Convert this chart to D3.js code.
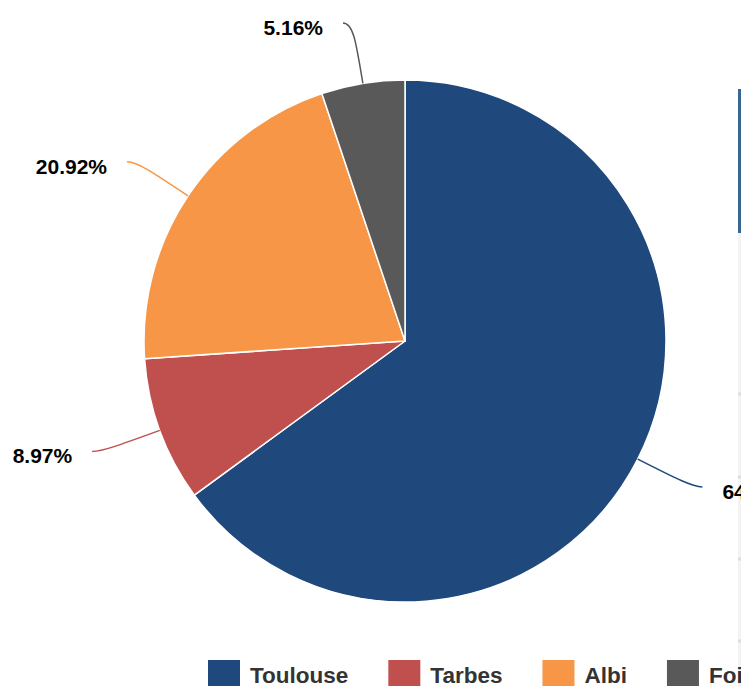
<!DOCTYPE html>
<html>
<head>
<meta charset="utf-8">
<script src="https://cdn.jsdelivr.net/npm/d3@7/dist/d3.min.js"></script>
<style>
  html, body { margin: 0; padding: 0; background: #fff; overflow: hidden; }
  svg { display: block; font-family: "Liberation Sans", Arial, Helvetica, sans-serif; }
</style>
</head>
<body>
<svg id="chart" width="741" height="686"></svg>
<script>
const categories = ["Toulouse", "Tarbes", "Albi", "Foix"];
const values = [64.95, 8.97, 20.92, 5.16];
const colors = ["#1f497d", "#c0504d", "#f79646", "#595959"];
const sideTicks = [394, 477, 559, 641];

const W = 741, H = 686;
const cx = 405, cy = 341, R = 261;
const svg = d3.select("#chart");

// cropped neighbouring element at right edge
svg.append("rect").attr("x", 738).attr("y", 233).attr("width", 3).attr("height", H - 233).attr("fill", "#f3f3f3");
svg.selectAll("rect.tick").data(sideTicks).enter().append("rect")
  .attr("class", "tick").attr("x", 738).attr("y", d => d - 1.5).attr("width", 3).attr("height", 3).attr("fill", "#dedede");
svg.append("rect").attr("x", 738).attr("y", 89).attr("width", 3).attr("height", 144).attr("fill", "#386792");

const total = d3.sum(values);
const data = categories.map((c, i) => ({ name: c, value: values[i], color: colors[i] }));
const pie = d3.pie().sort(null).value(d => d.value);
const arcs = pie(data);
const arc = d3.arc().innerRadius(0).outerRadius(R);

const g = svg.append("g").attr("transform", `translate(${cx},${cy})`);
g.selectAll("path.slice").data(arcs).enter().append("path")
  .attr("class", "slice")
  .attr("d", arc)
  .attr("fill", d => d.data.color)
  .attr("stroke", "#fff")
  .attr("stroke-width", 1.5)
  .attr("stroke-linejoin", "round");

const fmt = d3.format(".2f");
arcs.forEach(d => {
  const a = (d.startAngle + d.endAngle) / 2;
  const dx = Math.sin(a), dy = -Math.cos(a);
  const sign = dx >= 0 ? 1 : -1;
  const p0 = [dx * R, dy * R];
  const c1 = [dx * R * 1.17, dy * R * 1.17];
  const corner = [dx * R * 1.235, dy * R * 1.235];
  const end = [corner[0] + sign * 10, corner[1]];
  g.append("path")
    .attr("d", `M${p0[0]},${p0[1]} C${c1[0]},${c1[1]} ${corner[0]},${corner[1]} ${end[0]},${end[1]}`)
    .attr("fill", "none")
    .attr("stroke", d.data.color)
    .attr("stroke-width", 1.5);
  g.append("text")
    .attr("x", end[0] + sign * 20)
    .attr("y", end[1] + 4.5)
    .attr("dy", "0.35em")
    .attr("text-anchor", sign > 0 ? "start" : "end")
    .attr("font-size", 21)
    .attr("font-weight", "bold")
    .attr("fill", "#000")
    .text(fmt(d.data.value / total * 100) + "%");
});

// legend
const legend = svg.append("g");
let lx = 208;
data.forEach(d => {
  legend.append("rect").attr("x", lx).attr("y", 660).attr("width", 32).attr("height", 32).attr("fill", d.color);
  const t = legend.append("text")
    .attr("x", lx + 42).attr("y", 683)
    .attr("font-size", 22.5).attr("font-weight", "bold").attr("fill", "#333")
    .text(d.name);
  lx += 42 + t.node().getComputedTextLength() + 40;
});
</script>
</body>
</html>
